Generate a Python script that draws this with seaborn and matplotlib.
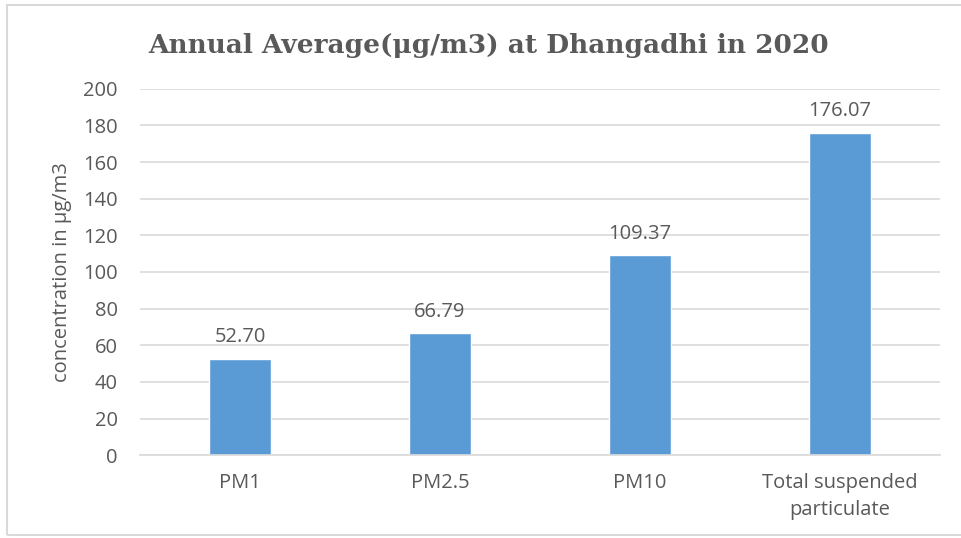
import matplotlib
matplotlib.use("Agg")
import matplotlib.pyplot as plt
import seaborn as sns
import pandas as pd
from matplotlib.patches import Rectangle

# data
categories = ["PM1", "PM2.5", "PM10", "Total suspended\nparticulate"]
values = [52.70, 66.79, 109.37, 176.07]
y_ticks = [0, 20, 40, 60, 80, 100, 120, 140, 160, 180, 200]

BAR_COLOR = "#5B9BD5"
TEXT_COLOR = "#595959"
GRID_COLOR = "#D9D9D9"
FS = 14.5

sns.set_theme(style="white")
plt.rcParams["font.family"] = ["Open Sans", "DejaVu Sans"]

df = pd.DataFrame({"pollutant": categories, "conc": values})

fig = plt.figure(figsize=(9.61, 5.38), dpi=100)
ax = fig.add_axes([0.1457, 0.154, 0.8325, 0.681])

sns.barplot(data=df, x="pollutant", y="conc", color=BAR_COLOR,
            saturation=1, width=0.31, ax=ax)

ax.set_ylim(0, 200)
ax.set_yticks(y_ticks)
ax.set_xlim(-0.5, len(categories) - 0.5)
ax.yaxis.grid(True, color=GRID_COLOR, linewidth=1.2)
ax.set_axisbelow(True)
for side in ["top", "right", "left"]:
    ax.spines[side].set_visible(False)
ax.spines["bottom"].set_color(GRID_COLOR)
ax.spines["bottom"].set_linewidth(1.2)
ax.tick_params(axis="both", length=0, colors=TEXT_COLOR, labelsize=FS)
ax.tick_params(axis="y", pad=16)
ax.tick_params(axis="x", pad=13)
for lab in ax.get_xticklabels():
    lab.set_linespacing(1.45)

ax.set_xlabel("")
ax.set_ylabel("concentration in μg/m3", color=TEXT_COLOR, fontsize=FS, labelpad=8)

# value labels on top of the bars
for cont in ax.containers:
    ax.bar_label(cont, fmt="%.2f", padding=8, color=TEXT_COLOR, fontsize=FS)

fig.text(0.508, 0.915, "Annual Average(μg/m3) at Dhangadhi in 2020",
         ha="center", va="center", fontsize=19, fontweight="bold",
         color=TEXT_COLOR, family=["DejaVu Serif"])

# light frame round the chart area
fig.patches.append(Rectangle((0.007, 0.006), 1.0, 0.984, transform=fig.transFigure,
                             fill=False, edgecolor=GRID_COLOR, linewidth=1.5))

fig.savefig("out.png", dpi=100)
plt.close(fig)
